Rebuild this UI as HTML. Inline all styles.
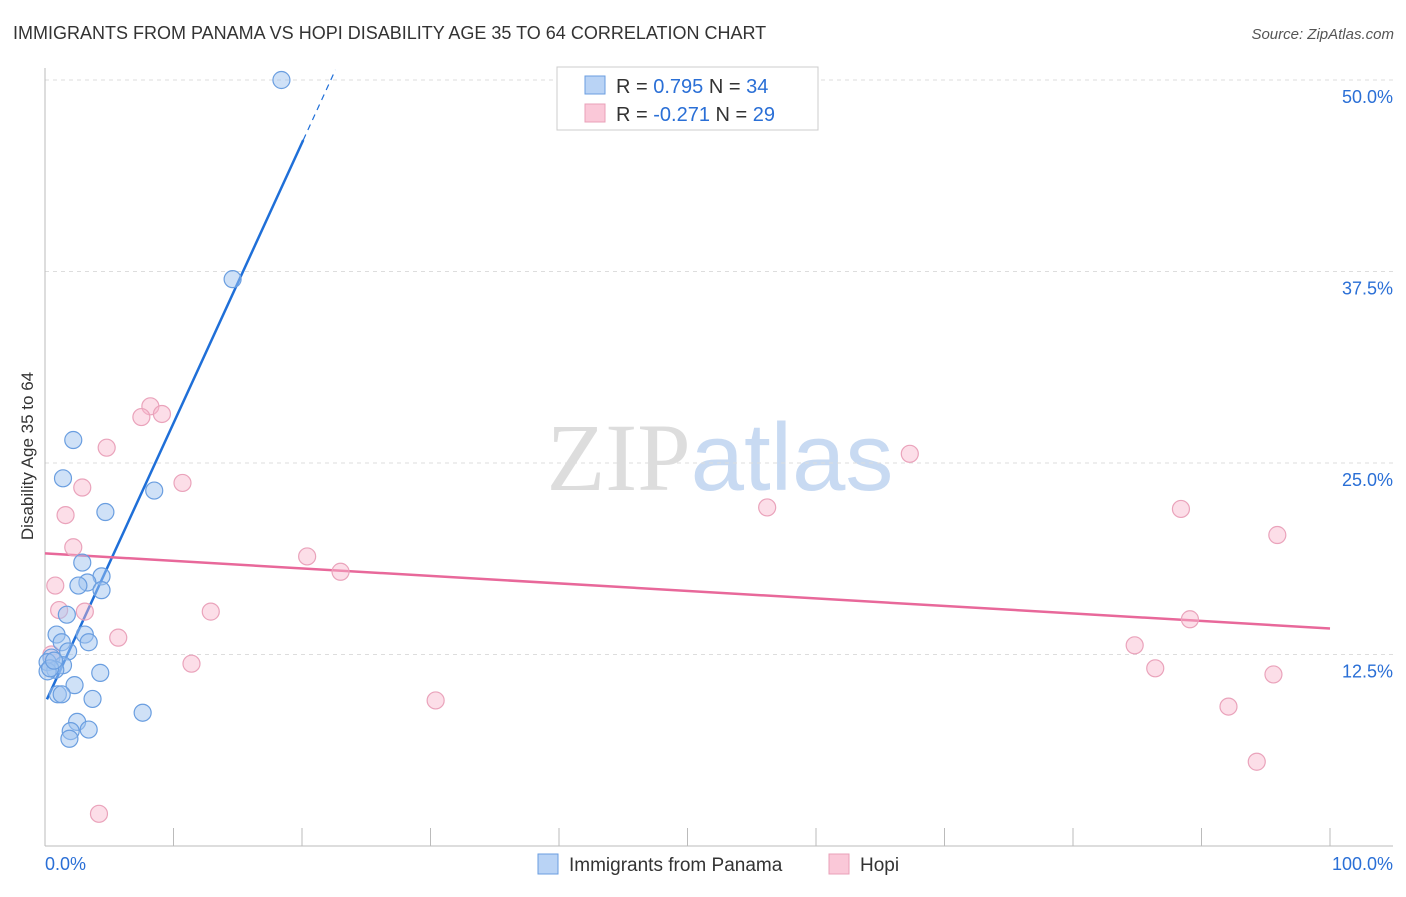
<!DOCTYPE html>
<html><head><meta charset="utf-8"><style>
body{margin:0;background:#fff;font-family:"Liberation Sans",sans-serif}
svg text{font-family:"Liberation Sans",sans-serif}
</style></head><body>
<svg id="chart" width="1406" height="892" xmlns="http://www.w3.org/2000/svg">
<text x="13" y="39" font-size="18" fill="#333">IMMIGRANTS FROM PANAMA VS HOPI DISABILITY AGE 35 TO 64 CORRELATION CHART</text>
<text x="1394" y="39" font-size="15" fill="#555" font-style="italic" text-anchor="end">Source: ZipAtlas.com</text>
<text x="720" y="490" font-size="96" text-anchor="middle"><tspan fill="#ddd" font-family="Liberation Serif">ZIP</tspan><tspan fill="#c8daf2">atlas</tspan></text>
<text transform="translate(33,456) rotate(-90)" font-size="17" fill="#333" text-anchor="middle">Disability Age 35 to 64</text>
<g id="grid"></g><g id="axes"></g><g id="lines"></g><g id="pts"></g>
<g>
<rect x="557" y="67" width="261" height="63" fill="#fff" stroke="#ccc"/>
<rect x="585" y="76" width="20" height="18" fill="#b9d3f5" stroke="#6a9ee0"/>
<rect x="585" y="104" width="20" height="18" fill="#fac8d8" stroke="#e9a0b8"/>
<text x="616" y="93" font-size="20" fill="#333">R = <tspan fill="#2a6fd6">0.795</tspan>   N = <tspan fill="#2a6fd6">34</tspan></text>
<text x="616" y="121" font-size="20" fill="#333">R = <tspan fill="#2a6fd6">-0.271</tspan>   N = <tspan fill="#2a6fd6">29</tspan></text>
</g>
<g>
<rect x="538" y="854" width="20" height="20" fill="#b9d3f5" stroke="#6a9ee0"/>
<text x="569" y="871" font-size="19" fill="#333">Immigrants from Panama</text>
<rect x="829" y="854" width="20" height="20" fill="#fac8d8" stroke="#e9a0b8"/>
<text x="860" y="871" font-size="19" fill="#333">Hopi</text>
</g>
</svg>
<script>
const blueX=[18.4,14.6,2.2,1.4,8.5,4.7,2.9,4.4,3.3,2.6,4.4,1.7,0.9,3.1,1.3,3.4,1.8,0.5,0.2,1.4,0.8,0.2,4.3,2.3,1.0,1.3,3.7,7.6,2.5,2.0,3.4,1.9,0.4,0.7];
const blueY=[50.0,37.0,26.5,24.0,23.2,21.8,18.5,17.6,17.2,17.0,16.7,15.1,13.8,13.8,13.3,13.3,12.7,12.3,12.0,11.8,11.5,11.4,11.3,10.5,9.9,9.9,9.6,8.7,8.1,7.5,7.6,7.0,11.6,12.1];
const pinkX=[8.2,7.5,9.1,4.8,2.9,10.7,1.6,2.2,0.8,1.1,3.1,12.9,5.7,11.4,20.4,23.0,30.4,4.2,67.3,56.2,88.4,95.9,89.1,84.8,86.4,95.6,92.1,94.3,0.5];
const pinkY=[28.7,28.0,28.2,26.0,23.4,23.7,21.6,19.5,17.0,15.4,15.3,15.3,13.6,11.9,18.9,17.9,9.5,2.1,25.6,22.1,22.0,20.3,14.8,13.1,11.6,11.2,9.1,5.5,12.5];
const yTicks=[12.5,25,37.5,50];
const yTickLabels=["12.5%","25.0%","37.5%","50.0%"];
const blueTrend=[9.3,1.83];
const pinkTrend=[19.1,-0.049];
const NS="http://www.w3.org/2000/svg";
const sx=v=>45+v*12.85, sy=v=>846-v*15.32;
function mk(t,a,p){const e=document.createElementNS(NS,t);for(const k in a)e.setAttribute(k,a[k]);document.getElementById(p).appendChild(e);return e;}
yTicks.forEach((t,i)=>{
 const l=mk('line',{x1:45,x2:1393,y1:sy(t),y2:sy(t),stroke:'#ddd','stroke-dasharray':'4,4'},'grid');
 
 
 const tx=mk('text',{x:1393,y:sy(t)+23,'font-size':18,fill:'#2a6fd6','text-anchor':'end'},'grid');
 
 
 tx.textContent=yTickLabels[i];
});
mk('line',{x1:45,x2:45,y1:68,y2:846,stroke:'#bbb'},'axes');
mk('line',{x1:45,x2:1393,y1:846,y2:846,stroke:'#bbb'},'axes');
for(let i=1;i<=10;i++){const t=mk('line',{x1:sx(i*10),x2:sx(i*10),y1:828,y2:846,stroke:'#bbb'},'axes');
 
 }
const x0=mk('text',{x:45,y:870,'font-size':18,fill:'#2a6fd6'},'axes');x0.textContent='0.0%';


const x1=mk('text',{x:1393,y:870,'font-size':18,fill:'#2a6fd6','text-anchor':'end'},'axes');x1.textContent='100.0%';


pinkX.forEach((x,i)=>{const c=mk('circle',{cx:sx(x),cy:sy(pinkY[i]),r:8.5,fill:'rgba(248,182,204,0.45)',stroke:'#eaa3bb','stroke-width':1.2},'pts');
 
 });
blueX.forEach((x,i)=>{const c=mk('circle',{cx:sx(x),cy:sy(blueY[i]),r:8.5,fill:'rgba(160,196,240,0.5)',stroke:'#6a9ee0','stroke-width':1.2},'pts');
 
 });
const bl=mk('line',{x1:sx(0.15),y1:sy(blueTrend[0]+blueTrend[1]*0.15),x2:sx(20.1),y2:sy(blueTrend[0]+blueTrend[1]*20.1),stroke:'#1f6fd8','stroke-width':2.5},'lines');


const bd=mk('line',{x1:sx(20.1),y1:sy(blueTrend[0]+blueTrend[1]*20.1),x2:sx(22.6),y2:sy(blueTrend[0]+blueTrend[1]*22.6),stroke:'#1f6fd8','stroke-width':1.2,'stroke-dasharray':'6,5'},'lines');


const pl=mk('line',{x1:sx(0),y1:sy(pinkTrend[0]),x2:sx(100),y2:sy(pinkTrend[0]+pinkTrend[1]*100),stroke:'#e8689a','stroke-width':2.5},'lines');


</script>
</body></html>
